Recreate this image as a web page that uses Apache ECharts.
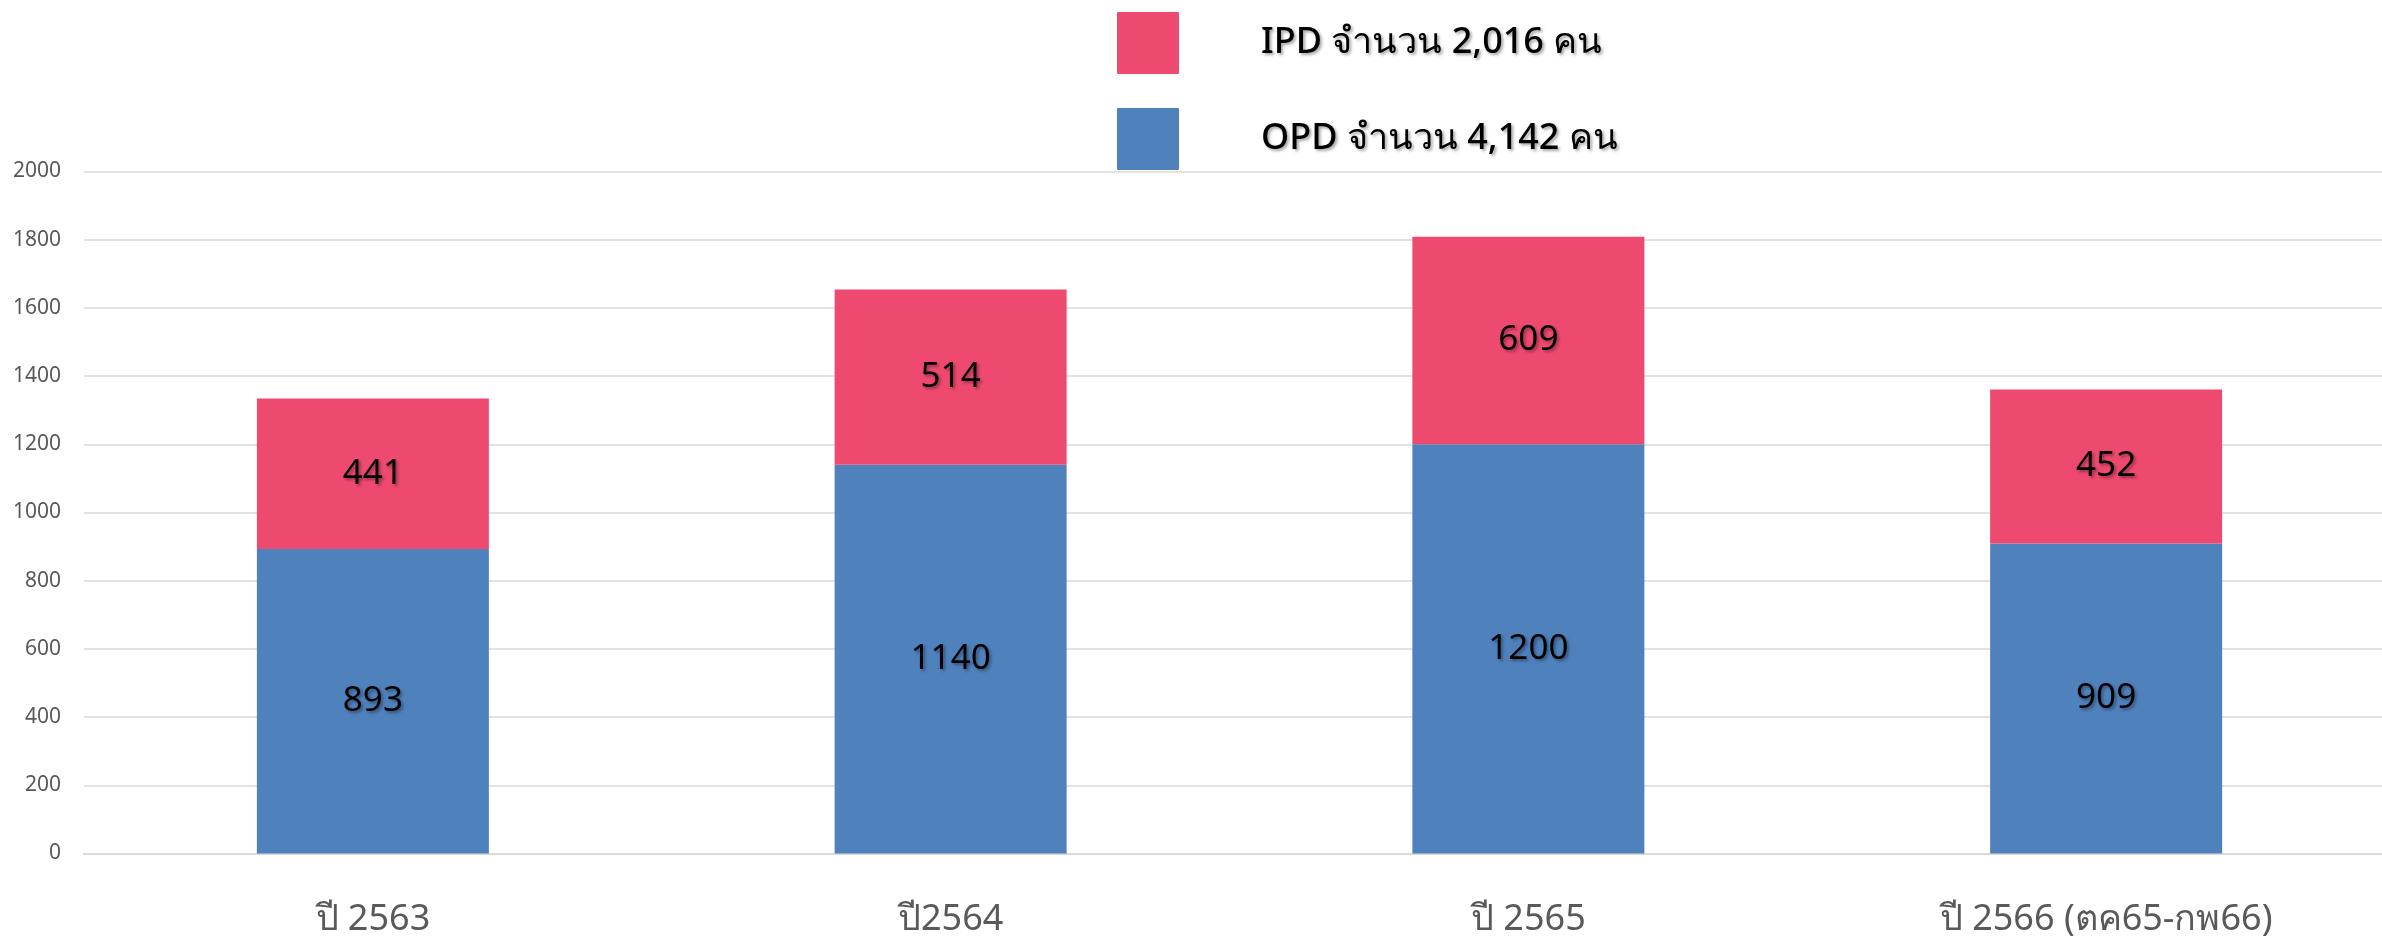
<!DOCTYPE html>
<html>
<head>
<meta charset="utf-8">
<title>OPD / IPD</title>
<script src="https://cdn.jsdelivr.net/npm/echarts@6/dist/echarts.min.js"></script>
<style>
  html, body { margin: 0; padding: 0; background: #fff; }
  #chart { width: 2382px; height: 936px; }
</style>
</head>
<body>
<div id="chart"></div>
<script>
// data
var years = ["ปี 2563", "ปี2564", "ปี 2565", "ปี 2566 (ตค65-กพ66)"];
var opd = [893, 1140, 1200, 909];
var ipd = [441, 514, 609, 452];
var yTicks = [0, 200, 400, 600, 800, 1000, 1200, 1400, 1600, 1800, 2000];

function total(arr) {
  return arr.reduce(function (a, b) { return a + b; }, 0);
}

var font = "'Noto Sans', 'Open Sans', sans-serif";
var shadow = {
  textShadowColor: "rgba(0,0,0,0.35)",
  textShadowBlur: 3,
  textShadowOffsetX: 2,
  textShadowOffsetY: 2
};

var myChart = echarts.init(document.getElementById("chart"));
myChart.setOption({
  backgroundColor: "#ffffff",
  animation: false,
  grid: {
    left: 84,
    top: 171.5,
    width: 2311,
    height: 682,
    outerBoundsMode: "none"
  },
  legend: {
    data: ["IPD", "OPD"],
    orient: "vertical",
    left: 1112,
    top: 7,
    itemWidth: 112,
    itemHeight: 62,
    itemGap: 34,
    icon: "path://M2,0 L98,0 Q100,0 100,2 L100,98 Q100,100 98,100 L2,100 Q0,100 0,98 L0,2 Q0,0 2,0 Z",
    formatter: function (name) {
      var n = name === "IPD" ? total(ipd) : total(opd);
      return name + " จำนวน " + n.toLocaleString("en-US") + " คน";
    },
    textStyle: Object.assign({
      fontFamily: font,
      fontSize: 36,
      fontWeight: 500,
      color: "#000",
      padding: [0, 0, 0, 52]
    }, shadow)
  },
  xAxis: {
    type: "category",
    data: years,
    axisLine: { lineStyle: { color: "#d9d9d9", width: 2 } },
    axisTick: { show: false },
    axisLabel: {
      fontFamily: font,
      fontSize: 36,
      color: "#595959",
      margin: 48
    }
  },
  yAxis: {
    type: "value",
    min: 0,
    max: 2000,
    interval: 200,
    axisLine: { show: false },
    axisTick: { show: false },
    splitLine: { lineStyle: { color: "#d9d9d9", width: 1.5 } },
    axisLabel: {
      fontFamily: font,
      fontSize: 21,
      color: "#595959",
      margin: 23,
      formatter: function (v) {
        return yTicks.indexOf(v) >= 0 ? String(v) : "";
      }
    }
  },
  series: [
    {
      name: "OPD",
      type: "bar",
      stack: "total",
      barWidth: 232,
      data: opd,
      itemStyle: { color: "#4f81bd" },
      label: Object.assign({
        show: true,
        position: "inside",
        fontFamily: font,
        fontSize: 35,
        color: "#000"
      }, shadow)
    },
    {
      name: "IPD",
      type: "bar",
      stack: "total",
      barWidth: 232,
      data: ipd,
      itemStyle: { color: "#ee4a6f" },
      label: Object.assign({
        show: true,
        position: "inside",
        fontFamily: font,
        fontSize: 35,
        color: "#000"
      }, shadow)
    }
  ]
});
</script>
</body>
</html>
